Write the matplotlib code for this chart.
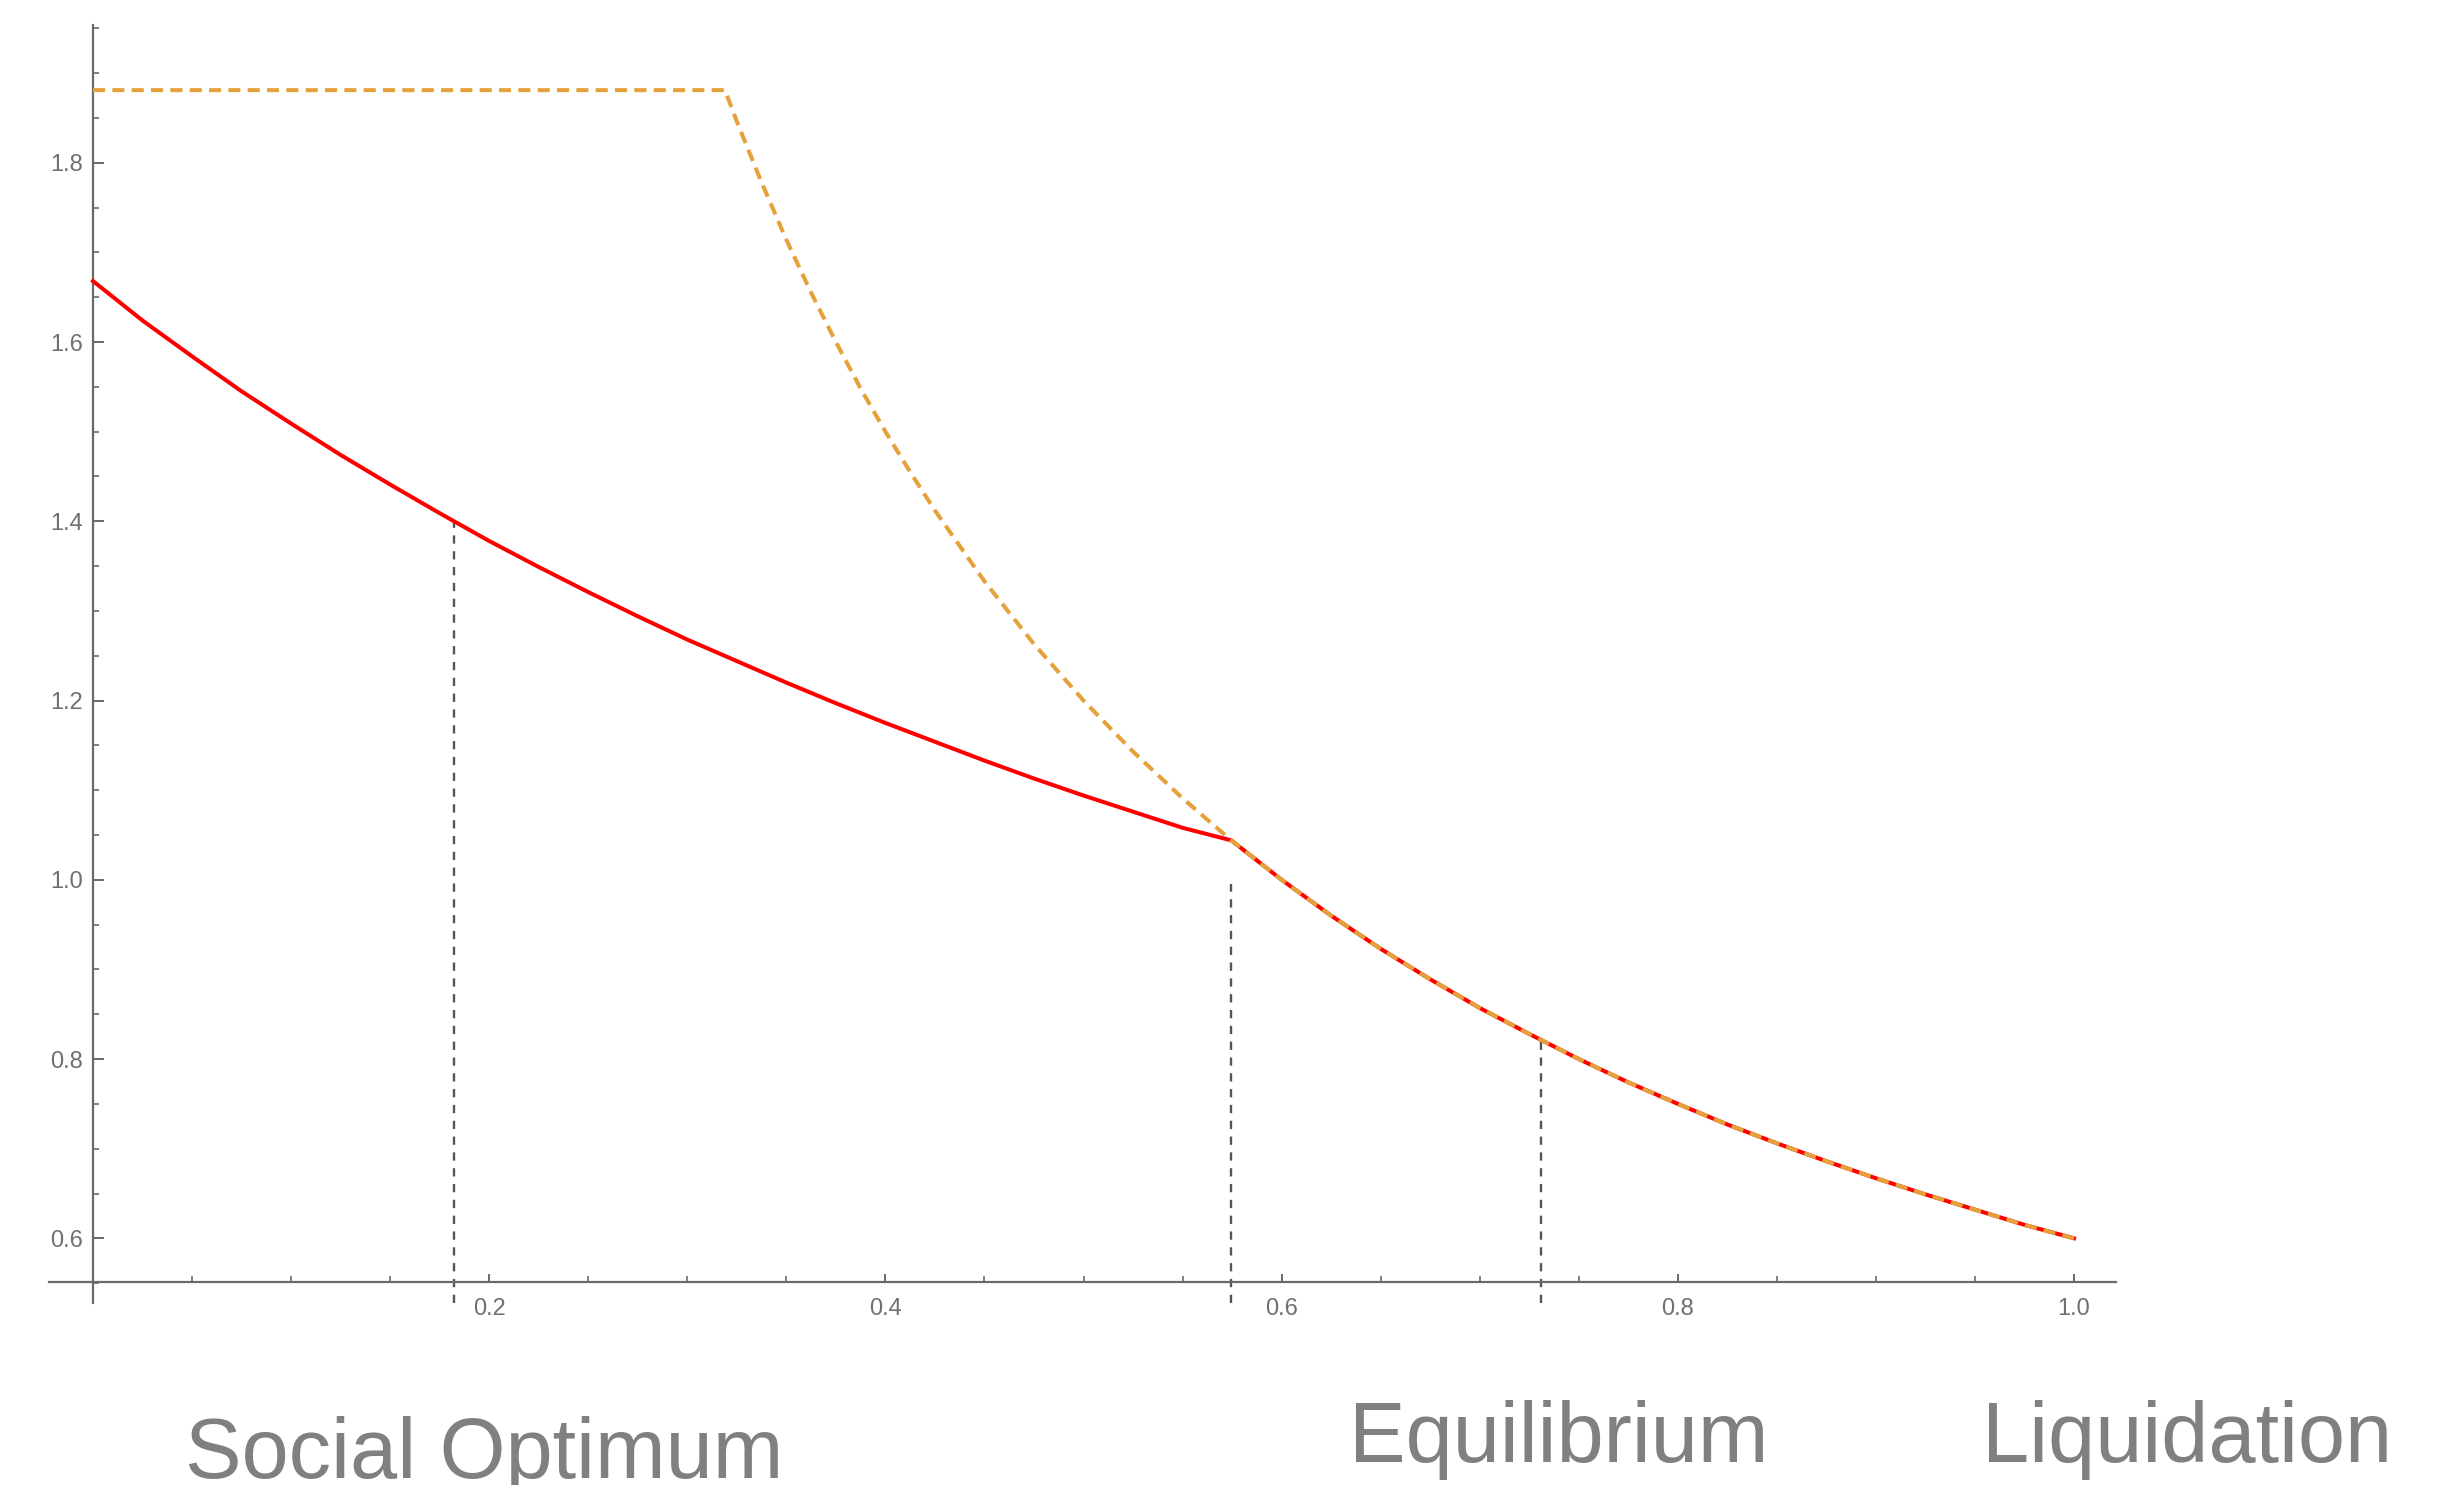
import matplotlib
matplotlib.use("Agg")
import matplotlib.pyplot as plt
from matplotlib.ticker import FixedLocator

plt.rcParams['font.family'] = ['Liberation Sans', 'DejaVu Sans']

# values
# red curve, left branch (up to the kink)
red_x = [0.0, 0.025, 0.05, 0.075, 0.10, 0.125, 0.15, 0.175, 0.20, 0.225, 0.25, 0.275,
         0.30, 0.325, 0.35, 0.375, 0.40, 0.425, 0.45, 0.475, 0.50, 0.525, 0.55, 0.5746]
red_y = [1.668, 1.624, 1.584, 1.545, 1.509, 1.474, 1.441, 1.409, 1.378, 1.349, 1.321, 1.294,
         1.268, 1.244, 1.220, 1.197, 1.175, 1.154, 1.133, 1.113, 1.094, 1.076, 1.058, 1.044]

# orange curve, flat part then steep branch (up to the kink)
orange_x = [0.0, 0.319, 0.325, 0.3375, 0.35, 0.3625, 0.375, 0.3875, 0.40, 0.4125, 0.425,
            0.45, 0.475, 0.50, 0.525, 0.55, 0.5746]
orange_y = [1.881, 1.881, 1.846, 1.778, 1.714, 1.655, 1.600, 1.548, 1.500, 1.455, 1.412,
            1.333, 1.263, 1.200, 1.143, 1.091, 1.044]

# shared branch to the right of the kink (both curves coincide)
tail_x = [0.5746, 0.60, 0.625, 0.65, 0.675, 0.70, 0.725, 0.75, 0.775, 0.80, 0.825,
          0.85, 0.875, 0.90, 0.925, 0.95, 0.975, 1.0]
tail_y = [1.044, 1.000, 0.960, 0.923, 0.889, 0.857, 0.828, 0.800, 0.774, 0.750, 0.727,
          0.706, 0.686, 0.667, 0.649, 0.632, 0.615, 0.600]

# vertical markers: x position and height reached
marker_x = [0.182, 0.5746, 0.731]
marker_top = [1.400, 0.995, 0.821]

labels = ["Social Optimum", "Equilibrium", "Liquidation"]

x_major = [0.2, 0.4, 0.6, 0.8, 1.0]
y_major = [0.6, 0.8, 1.0, 1.2, 1.4, 1.6, 1.8]
x_minor = [0.05 * i for i in range(1, 21)]
y_minor = [0.55 + 0.05 * i for i in range(0, 29)]

W, H = 2453, 1485
fig = plt.figure(figsize=(W / 100, H / 100), dpi=100)
ax = fig.add_axes([0.005609, 0.10576, 0.87220, 0.88725])
ax.set_xlim(-0.04, 1.04)
ax.set_ylim(0.50, 1.97)

axis_col = '#6a6a6a'
for s in ['top', 'right']:
    ax.spines[s].set_visible(False)
ax.spines['left'].set_position(('data', 0.0))
ax.spines['left'].set_bounds(0.528, 1.954)
ax.spines['bottom'].set_position(('data', 0.551))
ax.spines['bottom'].set_bounds(-0.022, 1.021)
for s in ['left', 'bottom']:
    ax.spines[s].set_color(axis_col)
    ax.spines[s].set_linewidth(1.6)

ax.xaxis.set_major_locator(FixedLocator(x_major))
ax.yaxis.set_major_locator(FixedLocator(y_major))
ax.xaxis.set_minor_locator(FixedLocator(x_minor))
ax.yaxis.set_minor_locator(FixedLocator(y_minor))
ax.set_xticklabels([f"{v:.1f}" for v in x_major])
ax.set_yticklabels([f"{v:.1f}" for v in y_major])
ax.tick_params(axis='both', which='major', direction='in', color=axis_col, width=1.4,
               labelsize=17, labelcolor='#707070')
ax.tick_params(axis='x', which='major', length=6, pad=11)
ax.tick_params(axis='y', which='major', length=8, pad=7)
ax.tick_params(axis='both', which='minor', direction='in', color=axis_col, width=1.2, length=4.5)

for xv, top in zip(marker_x, marker_top):
    ax.plot([xv, xv], [0.528, top], color='#555555', lw=1.7, dashes=(3.5, 3.2), zorder=2)

ax.plot(red_x + tail_x[1:], red_y + tail_y[1:], color='#ff0000', lw=2.9,
        solid_joinstyle='round', zorder=3)
ax.plot(orange_x + tail_x[1:], orange_y + tail_y[1:], color='#e5a13a', lw=2.9,
        dashes=(3.0, 1.8), dash_capstyle='butt', zorder=4)

label_pos = [(184.6, 1478), (1348.5, 1462), (1982, 1462)]
for txt, (px, py) in zip(labels, label_pos):
    fig.text(px / W, 1 - py / H, txt, ha='left', va='baseline', fontsize=61,
             color='#808080')

fig.savefig("out.png", dpi=100)
